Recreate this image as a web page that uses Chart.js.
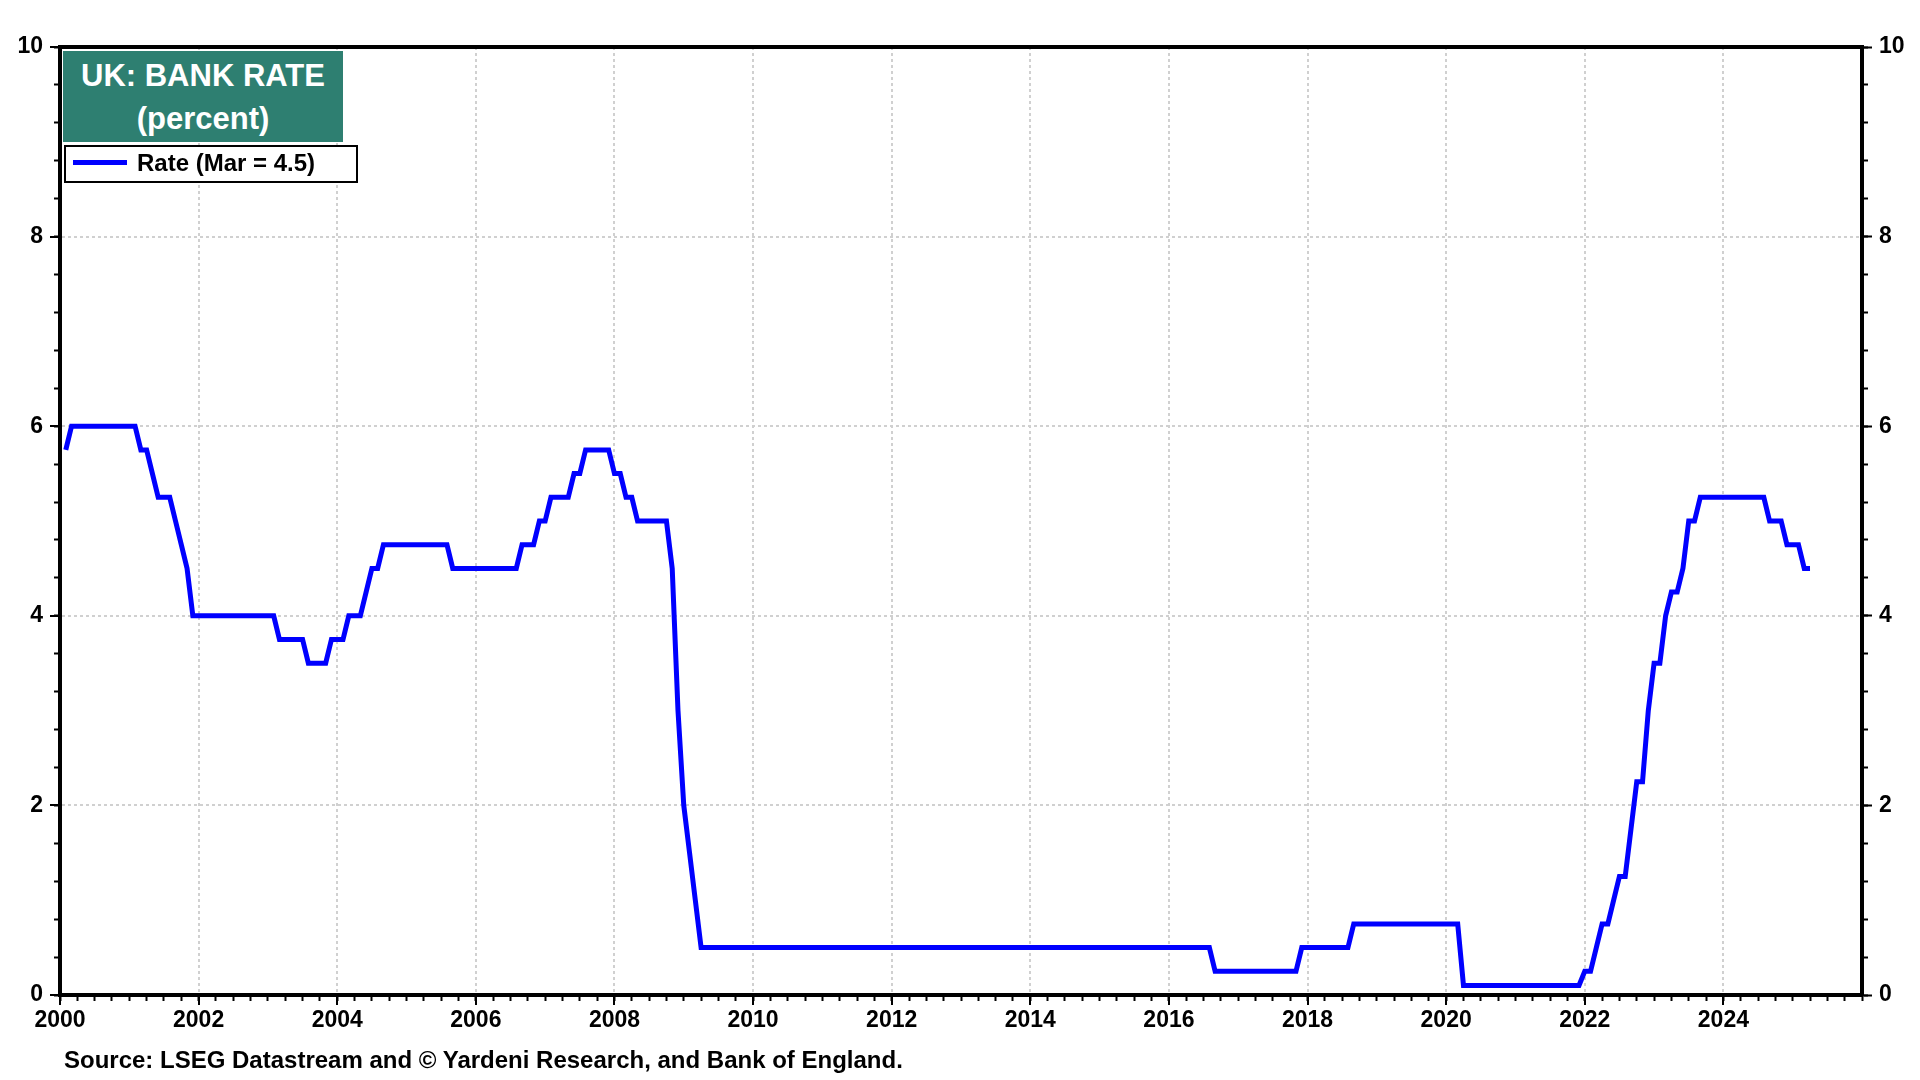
<!DOCTYPE html>
<html>
<head>
<meta charset="utf-8">
<script src="https://cdn.jsdelivr.net/npm/chart.js@4.4.1/dist/chart.umd.min.js"></script>
<style>
html,body{margin:0;padding:0;background:#fff;}
#wrap{position:relative;width:1920px;height:1080px;overflow:hidden;font-family:"Liberation Sans",Arial,Helvetica,sans-serif;}
#c{position:absolute;left:0;top:0;}
#title{position:absolute;left:63px;top:51px;width:280px;height:91px;background:#2E7F71;color:#fff;font-weight:bold;font-size:31px;line-height:43px;text-align:center;box-sizing:border-box;padding-top:3px;}
#legend{position:absolute;left:64px;top:145px;width:294px;height:38px;border:2px solid #000;box-sizing:border-box;background:#fff;}
#legend .sw{position:absolute;left:7px;top:13px;width:54px;height:5px;background:#0000FF;}
#legend .lt{position:absolute;left:71px;top:2px;font-weight:bold;font-size:24px;line-height:27px;color:#000;white-space:nowrap;}
#source{position:absolute;left:64px;top:1046px;font-weight:bold;font-size:24px;line-height:28px;color:#000;white-space:nowrap;}
</style>
</head>
<body>
<div id="wrap">
  <canvas id="c" width="1920" height="1080"></canvas>
  <div id="title">UK: BANK RATE<br>(percent)</div>
  <div id="legend"><span class="sw"></span><span class="lt">Rate (Mar = 4.5)</span></div>
  <div id="source">Source: LSEG Datastream and © Yardeni Research, and Bank of England.</div>
</div>
<script>
// ---- DATA ----
// Monthly Bank Rate (end of month), starting January 2000
const startYear = 2000;
const bankRate = [
  5.75, 6, 6, 6, 6, 6, 6, 6, 6, 6, 6, 6,                 // 2000
  6, 5.75, 5.75, 5.5, 5.25, 5.25, 5.25, 5, 4.75, 4.5, 4, 4, // 2001
  4, 4, 4, 4, 4, 4, 4, 4, 4, 4, 4, 4,                     // 2002
  4, 3.75, 3.75, 3.75, 3.75, 3.75, 3.5, 3.5, 3.5, 3.5, 3.75, 3.75, // 2003
  3.75, 4, 4, 4, 4.25, 4.5, 4.5, 4.75, 4.75, 4.75, 4.75, 4.75, // 2004
  4.75, 4.75, 4.75, 4.75, 4.75, 4.75, 4.75, 4.5, 4.5, 4.5, 4.5, 4.5, // 2005
  4.5, 4.5, 4.5, 4.5, 4.5, 4.5, 4.5, 4.75, 4.75, 4.75, 5, 5, // 2006
  5.25, 5.25, 5.25, 5.25, 5.5, 5.5, 5.75, 5.75, 5.75, 5.75, 5.75, 5.5, // 2007
  5.5, 5.25, 5.25, 5, 5, 5, 5, 5, 5, 4.5, 3, 2,           // 2008
  1.5, 1, 0.5, 0.5, 0.5, 0.5, 0.5, 0.5, 0.5, 0.5, 0.5, 0.5, // 2009
  0.5, 0.5, 0.5, 0.5, 0.5, 0.5, 0.5, 0.5, 0.5, 0.5, 0.5, 0.5, // 2010
  0.5, 0.5, 0.5, 0.5, 0.5, 0.5, 0.5, 0.5, 0.5, 0.5, 0.5, 0.5, // 2011
  0.5, 0.5, 0.5, 0.5, 0.5, 0.5, 0.5, 0.5, 0.5, 0.5, 0.5, 0.5, // 2012
  0.5, 0.5, 0.5, 0.5, 0.5, 0.5, 0.5, 0.5, 0.5, 0.5, 0.5, 0.5, // 2013
  0.5, 0.5, 0.5, 0.5, 0.5, 0.5, 0.5, 0.5, 0.5, 0.5, 0.5, 0.5, // 2014
  0.5, 0.5, 0.5, 0.5, 0.5, 0.5, 0.5, 0.5, 0.5, 0.5, 0.5, 0.5, // 2015
  0.5, 0.5, 0.5, 0.5, 0.5, 0.5, 0.5, 0.25, 0.25, 0.25, 0.25, 0.25, // 2016
  0.25, 0.25, 0.25, 0.25, 0.25, 0.25, 0.25, 0.25, 0.25, 0.25, 0.5, 0.5, // 2017
  0.5, 0.5, 0.5, 0.5, 0.5, 0.5, 0.5, 0.75, 0.75, 0.75, 0.75, 0.75, // 2018
  0.75, 0.75, 0.75, 0.75, 0.75, 0.75, 0.75, 0.75, 0.75, 0.75, 0.75, 0.75, // 2019
  0.75, 0.75, 0.1, 0.1, 0.1, 0.1, 0.1, 0.1, 0.1, 0.1, 0.1, 0.1, // 2020
  0.1, 0.1, 0.1, 0.1, 0.1, 0.1, 0.1, 0.1, 0.1, 0.1, 0.1, 0.25, // 2021
  0.25, 0.5, 0.75, 0.75, 1, 1.25, 1.25, 1.75, 2.25, 2.25, 3, 3.5, // 2022
  3.5, 4, 4.25, 4.25, 4.5, 5, 5, 5.25, 5.25, 5.25, 5.25, 5.25, // 2023
  5.25, 5.25, 5.25, 5.25, 5.25, 5.25, 5.25, 5, 5, 5, 4.75, 4.75, // 2024
  4.75, 4.5, 4.5                                           // 2025
];
const xTickYears = [2000, 2002, 2004, 2006, 2008, 2010, 2012, 2014, 2016, 2018, 2020, 2022, 2024];
const yTickValues = [0, 2, 4, 6, 8, 10];
const xRange = [2000, 2026];
const yRange = [0, 10];

// ---- CHART ----
const FONT = '"Liberation Sans", Arial, Helvetica, sans-serif';
const tickFont = {family: FONT, size: 23, weight: 'bold'};
const GRID = '#d0d0d0';
const CLEAR = 'rgba(0,0,0,0)';

// month-end positions on a decimal-year axis
const points = bankRate.map((v, i) => ({x: startYear + (i + 1) / 12, y: v}));

const chart = new Chart(document.getElementById('c'), {
  type: 'line',
  data: {
    datasets: [{
      label: 'Rate (Mar = 4.5)',
      data: points,
      borderColor: '#0000FF',
      borderWidth: 5,
      pointRadius: 0,
      pointHoverRadius: 0,
      fill: false,
      tension: 0,
      borderJoinStyle: 'miter',
      borderCapStyle: 'butt'
    }]
  },
  options: {
    responsive: false,
    devicePixelRatio: 1,
    animation: false,
    events: [],
    layout: {padding: {top: 47, left: 0, right: 0, bottom: 0}},
    plugins: {legend: {display: false}, tooltip: {enabled: false}, title: {display: false}},
    scales: {
      x: {
        type: 'linear', position: 'bottom', min: xRange[0], max: xRange[1], weight: 1,
        afterBuildTicks: s => { s.ticks = xTickYears.map(v => ({value: v})); },
        afterFit: s => { s.height = 85; },
        grid: {
          color: c => (c.tick && c.tick.value === xRange[0]) ? CLEAR : GRID,
          lineWidth: 2, drawTicks: true, tickLength: 10, tickColor: '#000', tickWidth: 2
        },
        border: {display: true, color: '#000', width: 4, dash: [3, 3]},
        ticks: {callback: v => String(v), font: tickFont, color: '#000', padding: 2, maxRotation: 0, minRotation: 0, autoSkip: false}
      },
      xMinor: {
        type: 'linear', position: 'bottom', min: xRange[0], max: xRange[1], weight: 0, display: true,
        afterFit: s => { s.height = 0; },
        ticks: {display: false, stepSize: 0.25, autoSkip: false},
        grid: {drawOnChartArea: false, drawTicks: true, tickLength: 6, tickColor: '#000', tickWidth: 2, color: '#000'},
        border: {display: false}
      },
      xTop: {
        type: 'linear', position: 'top', min: xRange[0], max: xRange[1], display: true,
        afterFit: s => { s.height = 0; },
        ticks: {display: false},
        grid: {display: false, drawTicks: false},
        border: {display: true, color: '#000', width: 4}
      },
      y: {
        type: 'linear', position: 'left', min: yRange[0], max: yRange[1], weight: 1,
        afterBuildTicks: s => { s.ticks = yTickValues.map(v => ({value: v})); },
        afterFit: s => { s.width = 60; },
        grid: {
          color: c => (c.tick && (c.tick.value === yRange[0] || c.tick.value === yRange[1])) ? CLEAR : GRID,
          lineWidth: 2, drawTicks: true, tickLength: 10, tickColor: '#000', tickWidth: 2
        },
        border: {display: true, color: '#000', width: 4, dash: [3, 3]},
        ticks: {font: tickFont, color: '#000', padding: 7}
      },
      yMinor: {
        type: 'linear', position: 'left', min: yRange[0], max: yRange[1], weight: 0, display: true,
        afterFit: s => { s.width = 0; },
        ticks: {display: false, stepSize: 0.4, autoSkip: false},
        grid: {drawOnChartArea: false, drawTicks: true, tickLength: 6, tickColor: '#000', tickWidth: 2, color: '#000'},
        border: {display: false}
      },
      y2: {
        type: 'linear', position: 'right', min: yRange[0], max: yRange[1], weight: 1, display: true,
        afterBuildTicks: s => { s.ticks = yTickValues.map(v => ({value: v})); },
        afterFit: s => { s.width = 58; },
        grid: {drawOnChartArea: false, drawTicks: true, tickLength: 10, tickColor: '#000', tickWidth: 2, color: '#000'},
        border: {display: true, color: '#000', width: 4},
        ticks: {font: tickFont, color: '#000', padding: 7}
      },
      y2Minor: {
        type: 'linear', position: 'right', min: yRange[0], max: yRange[1], weight: 0, display: true,
        afterFit: s => { s.width = 0; },
        ticks: {display: false, stepSize: 0.4, autoSkip: false},
        grid: {drawOnChartArea: false, drawTicks: true, tickLength: 6, tickColor: '#000', tickWidth: 2, color: '#000'},
        border: {display: false}
      }
    }
  }
});
</script>
</body>
</html>
